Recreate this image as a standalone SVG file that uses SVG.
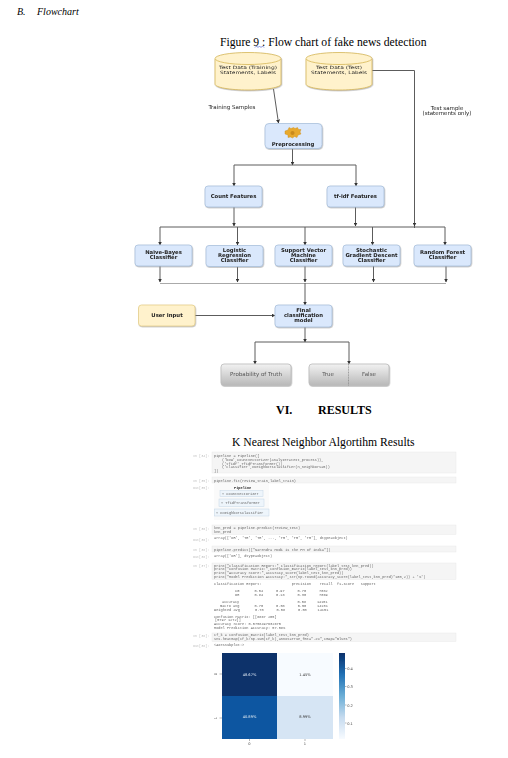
<svg xmlns="http://www.w3.org/2000/svg" width="508" height="758" viewBox="0 0 508 758">
<style>
text{font-family:"Liberation Sans",Arial,sans-serif}
.t{font-family:"Liberation Serif","Times New Roman",serif;fill:#000}
.lbl{font-family:"DejaVu Sans",sans-serif;font-size:5.5px;fill:#222;text-anchor:middle}
.cl{font-size:4.4px}
.b{font-weight:bold;font-size:5.3px}
.blue{fill:#dae8fc;stroke:#a9c0dc;stroke-width:.8;filter:url(#sh)}
.cyl{fill:#fff2cc;stroke:#d6b656;stroke-width:.8}
.yel{fill:#fff2cc;stroke:#e6cf8b;stroke-width:.8;filter:url(#sh)}
.gry{fill:url(#g);stroke:#bbb;stroke-width:.8;filter:url(#sh)}
.c{fill:none;stroke:#5c5c5c;stroke-width:1}
.a{marker-end:url(#ah)}
.cell{fill:#f5f5f5;stroke:#e6e6e6;stroke-width:.4}
.m{font-family:"Liberation Mono",monospace;font-size:3.6px;fill:#666}
.p{font-family:"Liberation Mono",monospace;font-size:3.4px;fill:#c0c0c0}
.pb{fill:#eef5fb;stroke:#c4d6e6;stroke-width:.5}
.hm{font-family:"DejaVu Sans",sans-serif;font-size:3.6px;text-anchor:middle}
</style>
<defs>
<linearGradient id="g" x1="0" y1="0" x2="0" y2="1"><stop offset="0" stop-color="#f2f2f2"/><stop offset="1" stop-color="#b8b8b8"/></linearGradient>
<linearGradient id="cb" x1="0" y1="0" x2="0" y2="1"><stop offset="0" stop-color="#08306b"/><stop offset=".25" stop-color="#2171b5"/><stop offset=".5" stop-color="#6baed6"/><stop offset=".75" stop-color="#c6dbef"/><stop offset="1" stop-color="#f7fbff"/></linearGradient>
<filter id="sh" x="-10%" y="-10%" width="120%" height="125%"><feDropShadow dx=".6" dy=".8" stdDeviation=".5" flood-color="#888" flood-opacity=".6"/></filter>
<filter id="s1" x="-5%" y="-20%" width="110%" height="140%"><feGaussianBlur stdDeviation=".3"/></filter>
<filter id="s2" x="-5%" y="-5%" width="110%" height="110%"><feGaussianBlur stdDeviation=".5"/></filter>
<marker id="ah" markerUnits="userSpaceOnUse" markerWidth="4" markerHeight="4" refX="3.4" refY="2" orient="auto"><path d="M0 0L3.6 2L0 4z" fill="#333"/></marker>
</defs>

<rect width="508" height="758" fill="#fff"/>
<text class="t" x="17" y="15" font-size="10" font-style="italic">B.</text>
<text class="t" x="37" y="15" font-size="10" font-style="italic">Flowchart</text>
<text class="t" x="220" y="46" font-size="11.660">Figure 9 : Flow chart of fake news detection</text>
<path d="M255 47.500l1.500-1.500 1.500 1.500 1.500-1.500 1.500 1.500 1.500-1.500 1.500 1.500" fill="none" stroke="#3a50c8" stroke-width=".6"/>

<g id="connectors">
<path class="c a" d="M273.500 89L278.500 123"/>
<path class="c" d="M371 70.500H414.500V228"/>
<path class="c a" d="M292.500 148V165"/>
<path class="c a" d="M234 165H356V186"/>
<path class="c a" d="M234 165V186"/>
<path class="c a" d="M234 207V226"/>
<path class="c a" d="M355.500 207V226"/>
<path class="c a" d="M414.500 200V226"/>
<path class="c" d="M160 227H445"/>
<path class="c a" d="M160 227V245"/>
<path class="c a" d="M237.500 227V245"/>
<path class="c a" d="M305 227V245"/>
<path class="c a" d="M372.500 227V245"/>
<path class="c a" d="M445 227V245"/>
<path class="c a" d="M160 266V282"/>
<path class="c a" d="M237.500 266V282"/>
<path class="c a" d="M305 266V282"/>
<path class="c a" d="M373.500 266V282"/>
<path class="c a" d="M446 266V282"/>
<path d="M160 283.500H446" fill="none" stroke="#aaa" stroke-width="1"/>
<path class="c a" d="M305 283V305"/>
<path class="c a" d="M195 315.500H275"/>
<path class="c a" d="M305 327V342"/>
<path class="c a" d="M255 342H349V364"/>
<path class="c a" d="M255 342V364"/>
</g>

<g id="train-data">
<g filter="url(#sh)"><path class="cyl" d="M215 59V84C215 87.500 230 90 248 90S281 87.500 281 84V59"/>
<ellipse class="cyl" cx="248" cy="58.500" rx="33" ry="6"/></g>
<g filter="url(#s1)"><text class="lbl cl" x="248" y="68.700" textLength="58" lengthAdjust="spacingAndGlyphs">Test Data (Training)</text><text class="lbl cl" x="248" y="74" textLength="56" lengthAdjust="spacingAndGlyphs">Statements, Labels</text></g>
</g>
<g id="test-data">
<g filter="url(#sh)"><path class="cyl" d="M306 59V84C306 87.500 321 90 339 90S372 87.500 372 84V59"/>
<ellipse class="cyl" cx="339" cy="58.500" rx="33" ry="6"/></g>
<g filter="url(#s1)"><text class="lbl cl" x="339" y="68.700" textLength="46" lengthAdjust="spacingAndGlyphs">Test Data (Test)</text><text class="lbl cl" x="339" y="74" textLength="56" lengthAdjust="spacingAndGlyphs">Statements, Labels</text></g>
</g>
<g id="label-training" filter="url(#s1)"><text class="lbl" x="232" y="108.500">Training Samples</text></g>
<g id="label-test" filter="url(#s1)"><text class="lbl" x="447" y="109.500">Test sample</text><text class="lbl" x="447" y="114.500">(statements only)</text></g>

<g id="preprocessing">
<rect class="blue" x="265" y="123.500" width="57" height="25" rx="4"/>
<path d="M285 131l3-1 1-2.500 2 1 2.500-1 1.500 1 2.500-1 1 2 2.500 0-1 2.500 1 2-3 1-1 2.500-2.500-1-2 1.500-2-1-2.500 .5 0-2.500-3-1z" fill="#e8a92c" stroke="#c98a1c" stroke-width=".4"/>
<circle cx="292.500" cy="133" r="2" fill="#c98a1c"/>
<g filter="url(#s1)"><text class="lbl b" x="293" y="145.500">Preprocessing</text></g>
</g>
<g id="count-features"><rect class="blue" x="205" y="186" width="57" height="21" rx="3"/><g filter="url(#s1)"><text class="lbl b" x="233.500" y="198">Count Features</text></g></g>
<g id="tfidf-features"><rect class="blue" x="327" y="186" width="57" height="21" rx="3"/><g filter="url(#s1)"><text class="lbl b" x="355.500" y="198">tf-idf Features</text></g></g>

<g id="naive-bayes"><rect class="blue" x="135" y="245" width="57" height="21" rx="3"/><g filter="url(#s1)"><text class="lbl b" x="163.500" y="254">Naïve-Bayes</text><text class="lbl b" x="163.500" y="259">Classifier</text></g></g>
<g id="logistic"><rect class="blue" x="206" y="245.500" width="57" height="21" rx="3"/><g filter="url(#s1)"><text class="lbl b" x="234.500" y="252">Logistic</text><text class="lbl b" x="234.500" y="257">Regression</text><text class="lbl b" x="234.500" y="262">Classifier</text></g></g>
<g id="svm"><rect class="blue" x="275" y="245" width="57" height="21" rx="3"/><g filter="url(#s1)"><text class="lbl b" x="303.500" y="251.500">Support Vector</text><text class="lbl b" x="303.500" y="256.500">Machine</text><text class="lbl b" x="303.500" y="261.500">Classifier</text></g></g>
<g id="sgd"><rect class="blue" x="343" y="245" width="57" height="21" rx="3"/><g filter="url(#s1)"><text class="lbl b" x="371.500" y="251.500">Stochastic</text><text class="lbl b" x="371.500" y="256.500">Gradient Descent</text><text class="lbl b" x="371.500" y="261.500">Classifier</text></g></g>
<g id="random-forest"><rect class="blue" x="414" y="245" width="57" height="21" rx="3"/><g filter="url(#s1)"><text class="lbl b" x="442.500" y="254">Random Forest</text><text class="lbl b" x="442.500" y="259">Classifier</text></g></g>

<g id="user-input"><rect class="yel" x="138.500" y="305" width="56.500" height="21" rx="3"/><g filter="url(#s1)"><text class="lbl b" x="167" y="316.500">User Input</text></g></g>
<g id="final-model"><rect class="blue" x="275" y="305" width="57" height="22" rx="3"/><g filter="url(#s1)"><text class="lbl b" x="303.500" y="311.500">Final</text><text class="lbl b" x="303.500" y="316.500">classification</text><text class="lbl b" x="303.500" y="321.500">model</text></g></g>
<g id="probability"><rect class="gry" x="221" y="364" width="70" height="21.500" rx="3"/><g filter="url(#s1)"><text class="lbl" x="256" y="376" style="fill:#555">Probability of Truth</text></g></g>
<g id="true-false"><rect class="gry" x="309" y="364" width="80" height="21.500" rx="3"/><path d="M348.500 364V385.500" stroke="#777" stroke-width=".6" stroke-dasharray="1 .6"/><g filter="url(#s1)"><text class="lbl" x="328" y="376" style="fill:#555">True</text><text class="lbl" x="369" y="376" style="fill:#555">False</text></g></g>

<text class="t" font-weight="bold" x="276" y="414" font-size="12">VI.</text>
<text class="t" font-weight="bold" x="318" y="414" font-size="12">RESULTS</text>
<text class="t" x="232" y="446" font-size="11.700">K Nearest Neighbor Algortihm Results</text>

<g id="notebook" filter="url(#s2)">
<rect class="cell" x="212" y="452" width="244" height="21"/>
<rect class="cell" x="212" y="477" width="244" height="6"/>
<rect class="cell" x="212" y="525" width="244" height="9.500"/>
<rect class="cell" x="212" y="546" width="244" height="6"/>
<rect class="cell" x="212" y="563" width="244" height="16.500"/>
<rect class="cell" x="212" y="633" width="244" height="8.500"/>
<text class="p" x="193" y="457">In [34]:</text>
<text class="m" x="214" y="457">pipeline = Pipeline([</text>
<text class="m" x="222" y="460.800">('bow',CountVectorizer(analyzer=text_process)),</text>
<text class="m" x="222" y="464.600">('tfidf',TfidfTransformer()),</text>
<text class="m" x="222" y="468.400">('classifier',KNeighborsClassifier(n_neighbors=5))</text>
<text class="m" x="214" y="472.200">])</text>
<text class="p" x="193" y="481.500">In [35]:</text>
<text class="m" x="214" y="481.500">pipeline.fit(review_train,label_train)</text>
<text class="p" x="193" y="489">Out[35]:</text>
<rect x="214" y="484" width="55" height="36" fill="#fafafa"/>
<text class="m" x="234" y="488.500" font-weight="bold" style="fill:#222">Pipeline</text>
<rect class="pb" x="220" y="490.700" width="43" height="6"/><text class="m" x="222" y="495">? CountVectorizer</text>
<rect class="pb" x="219" y="499" width="45" height="7.500"/><text class="m" x="221" y="503.800">? TfidfTransformer</text>
<rect class="pb" x="214.500" y="509" width="54.500" height="7"/><text class="m" x="216" y="513.500">? KNeighborsClassifier</text>
<text class="p" x="193" y="530">In [36]:</text>
<text class="m" x="214" y="528.500">knn_pred = pipeline.predict(review_test)</text>
<text class="m" x="214" y="532.500">knn_pred</text>
<text class="p" x="193" y="541">Out[36]:</text>
<text class="m" x="214" y="539">array(['OR', 'TR', 'TR', ..., 'TR', 'TR', 'TR'], dtype=object)</text>
<text class="p" x="193" y="550.500">In [38]:</text>
<text class="m" x="214" y="550.500">pipeline.predict(["Narendra Modi is the PM of india"])</text>
<text class="p" x="193" y="558">Out[38]:</text>
<text class="m" x="214" y="556.500">array(['OR'], dtype=object)</text>
<text class="p" x="193" y="567">In [37]:</text>
<text class="m" x="214" y="566.500">print("Classification Report:",classification_report(label_test,knn_pred))</text>
<text class="m" x="214" y="570.300">print("Confusion Matrix:",confusion_matrix(label_test,knn_pred))</text>
<text class="m" x="214" y="574.100">print("Accuracy Score:",accuracy_score(label_test,knn_pred))</text>
<text class="m" x="214" y="577.900">print("Model Prediction Accuracy:",str(np.round(accuracy_score(label_test,knn_pred)*100,2)) + '%')</text>
<text class="m" x="214" y="584.500" xml:space="preserve">Classification Report:              precision    recall  f1-score   support</text>
<text class="m" x="235" y="591.500" xml:space="preserve">CG       0.54      0.97      0.70      7082</text>
<text class="m" x="235" y="595.500" xml:space="preserve">OR       0.84      0.18      0.30      7069</text>
<text class="m" x="222" y="603" xml:space="preserve">accuracy                           0.58     14151</text>
<text class="m" x="220" y="607" xml:space="preserve">macro avg       0.70      0.58      0.50     14151</text>
<text class="m" x="214" y="611" xml:space="preserve">weighted avg       0.70      0.58      0.50     14151</text>
<text class="m" x="214" y="617.500">Confusion Matrix: [[6867  205]</text>
<text class="m" x="215" y="621.300">[5797 1272]]</text>
<text class="m" x="214" y="625">Accuracy Score: 0.5758497632675</text>
<text class="m" x="214" y="629">Model Prediction Accuracy: 57.58%</text>
<text class="p" x="193" y="637">In [38]:</text>
<text class="m" x="214" y="636">cf_k = confusion_matrix(label_test,knn_pred)</text>
<text class="m" x="214" y="640">sns.heatmap(cf_k/np.sum(cf_k),annot=True,fmt=".2%",cmap="Blues")</text>
<text class="p" x="193" y="646.500">Out[38]:</text>
<text class="m" x="214" y="646">&lt;AxesSubplot:&gt;</text>
</g>

<g id="heatmap" filter="url(#s1)">
<rect x="222" y="653" width="55" height="43" fill="#08306b"/>
<rect x="277" y="653" width="56" height="43" fill="#f7fbff"/>
<rect x="222" y="696" width="55" height="43" fill="#0d57a1"/>
<rect x="277" y="696" width="56" height="43" fill="#d6e5f4"/>
<text class="hm" x="249.500" y="675.500" fill="#e8eef5">48.67%</text>
<text class="hm" x="305" y="675.500" fill="#333">1.45%</text>
<text class="hm" x="249.500" y="718" fill="#e8eef5">40.89%</text>
<text class="hm" x="305" y="718" fill="#333">8.99%</text>
<rect x="339" y="653" width="6" height="86" fill="url(#cb)"/>
<path d="M345 668.500h1.500M345 686.500h1.500M345 705h1.500M345 723h1.500M219.500 674h2.500M219.500 718h2.500M249.500 739v2M305 739v2" stroke="#444" stroke-width=".4" fill="none"/>
<text class="hm" x="350" y="670" fill="#444">0.4</text>
<text class="hm" x="350" y="688" fill="#444">0.3</text>
<text class="hm" x="350" y="706.500" fill="#444">0.2</text>
<text class="hm" x="350" y="724.500" fill="#444">0.1</text>
<text class="hm" x="216" y="675" fill="#444" transform="rotate(-90 216 674)">0</text>
<text class="hm" x="216" y="719" fill="#444" transform="rotate(-90 216 718)">1</text>
<text class="hm" x="249.500" y="745" fill="#444">0</text>
<text class="hm" x="305" y="745" fill="#444">1</text>
</g>
</svg>
